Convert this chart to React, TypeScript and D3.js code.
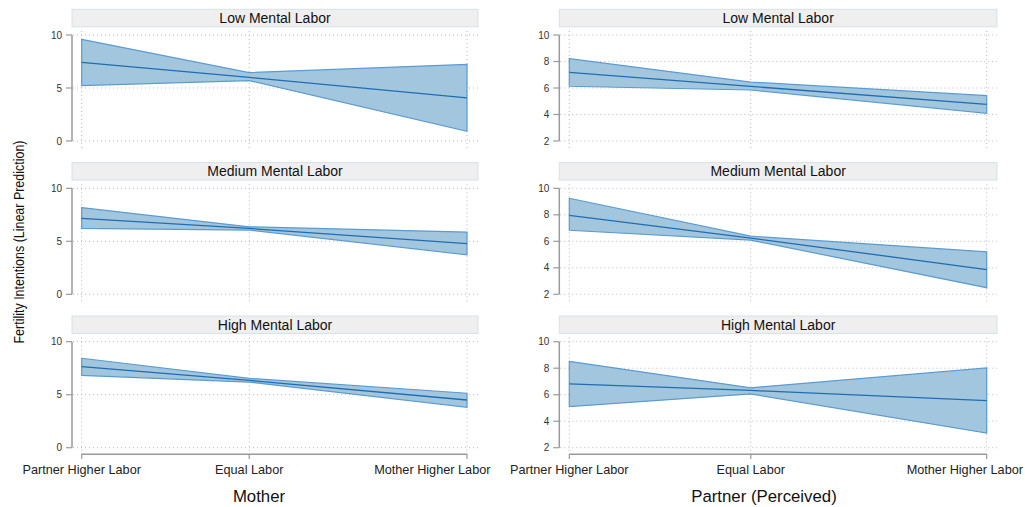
import React from 'react';
import * as d3 from 'd3';

// categories
const laborLevels = ['Partner Higher Labor', 'Equal Labor', 'Mother Higher Labor'];
const laborScore = [-1, 0, 1.3];
const mentalLabor = ['Low Mental Labor', 'Medium Mental Labor', 'High Mental Labor'];

// Mother's reported labor: predictions with CI (rows = mental labor level)
const motherMean = [[7.42, 6.0, 4.06], [7.16, 6.21, 4.79], [7.65, 6.35, 4.5]];
const motherLo = [[5.22, 5.7, 0.91], [6.21, 6.06, 3.72], [6.83, 6.19, 3.81]];
const motherHi = [[9.59, 6.45, 7.23], [8.17, 6.37, 5.87], [8.44, 6.54, 5.14]];
const motherTicks = [0, 5, 10];

// Partner (perceived)
const partnerMean = [[7.18, 6.12, 4.77], [7.95, 6.24, 3.87], [6.82, 6.32, 5.55]];
const partnerLo = [[6.13, 5.85, 4.09], [6.83, 6.09, 2.5], [5.1, 6.06, 3.1]];
const partnerHi = [[8.21, 6.45, 5.42], [9.25, 6.39, 5.2], [8.52, 6.52, 8.02]];
const partnerTicks = [2, 4, 6, 8, 10];

const FONT = '"Liberation Sans", Arial, sans-serif';
const GRID = '#b8b8b8';
const AXIS = '#9a9a9a';

const columns = [
  { title: 'Mother', mean: motherMean, lo: motherLo, hi: motherHi, ticks: motherTicks,
    axisX: 72, right: 478, x0: 81.7, x1: 467, titleX: 259, lastLabelEnd: 490.5 },
  { title: 'Partner (Perceived)', mean: partnerMean, lo: partnerLo, hi: partnerHi, ticks: partnerTicks,
    axisX: 559.3, right: 997, x0: 569.3, x1: 986.7, titleX: 764, lastLabelEnd: 1023 },
];

const rowTop = [35, 188.3, 341.7];
const rowH = 106;

function Panel({ col, row }) {
  const x = d3.scaleLinear().domain([laborScore[0], laborScore[2]]).range([col.x0, col.x1]);
  const yMin = col.ticks[0], yMax = col.ticks[col.ticks.length - 1];
  const y = d3.scaleLinear().domain([yMin, yMax]).range([rowTop[row] + rowH, rowTop[row]]);
  const pts = laborScore.map((s, i) => ({ s, m: col.mean[row][i], lo: col.lo[row][i], hi: col.hi[row][i] }));

  const area = d3.area().x(d => x(d.s)).y0(d => y(d.lo)).y1(d => y(d.hi));
  const line = d3.line().x(d => x(d.s)).y(d => y(d.m));

  const top = rowTop[row];
  const bottom = top + rowH;
  const stripTop = top - 25.7;

  return (
    <g>
      {/* strip */}
      <rect x={col.axisX} y={stripTop} width={col.right - col.axisX} height={17.5}
        fill="#efefef" stroke="#d5e2e8" strokeWidth={1} />
      <text x={(col.axisX + col.right) / 2} y={stripTop + 13.5} textAnchor="middle"
        fontFamily={FONT} fontSize={14} fill="#111">{mentalLabor[row]}</text>

      {/* grid */}
      {col.ticks.map(t => (
        <line key={'h' + t} x1={col.axisX + 1} x2={col.right} y1={y(t)} y2={y(t)}
          stroke={GRID} strokeWidth={1} strokeDasharray="1,3" />
      ))}
      {laborScore.map(s => (
        <line key={'v' + s} x1={x(s)} x2={x(s)} y1={top - 4} y2={bottom + 7}
          stroke={GRID} strokeWidth={1} strokeDasharray="1,3" />
      ))}

      {/* y axis */}
      <line x1={col.axisX} x2={col.axisX} y1={y(yMax)} y2={y(yMin)} stroke={AXIS} strokeWidth={1.5} />
      {col.ticks.map(t => (
        <g key={'t' + t}>
          <line x1={col.axisX - 6} x2={col.axisX} y1={y(t)} y2={y(t)} stroke={AXIS} strokeWidth={1.2} />
          <text x={col.axisX - 10} y={y(t)} dy="0.35em" textAnchor="end"
            fontFamily={FONT} fontSize={10} fill="#333">{t}</text>
        </g>
      ))}

      {/* CI band and prediction */}
      <path d={area(pts)} fill="#a3c6df" stroke="#5b9bd0" strokeWidth={1.2} />
      <path d={line(pts)} fill="none" stroke="#1f6db0" strokeWidth={1.3} />

      {/* x axis on bottom row */}
      {row === 2 && (
        <g>
          <line x1={col.x0} x2={col.x1} y1={454.3} y2={454.3} stroke={AXIS} strokeWidth={1.5} />
          {laborScore.map((s, i) => {
            const last = i === laborScore.length - 1;
            return (
              <g key={'x' + s}>
                <line x1={x(s)} x2={x(s)} y1={454.3} y2={459} stroke={AXIS} strokeWidth={1.2} />
                <text x={last ? col.lastLabelEnd : x(s)} y={473.5} textAnchor={last ? 'end' : 'middle'}
                  fontFamily={FONT} fontSize={12.7} fill="#222">
                  {laborLevels[i]}
                </text>
              </g>
            );
          })}
          <text x={col.titleX} y={502} textAnchor="middle" fontFamily={FONT} fontSize={16.8} fill="#111">
            {col.title}
          </text>
        </g>
      )}
    </g>
  );
}

export default function App() {
  return (
    <svg width={1025} height={507} style={{ position: 'absolute', left: 0, top: 0, background: '#fff' }}>
      <rect width={1025} height={507} fill="#fff" />
      {columns.map((col, c) =>
        mentalLabor.map((m, r) => <Panel key={c + '-' + r} col={col} row={r} />)
      )}
      <text transform="translate(24,242) rotate(-90)" textAnchor="middle" fontFamily={FONT}
        fontSize={14} fill="#111" textLength={203} lengthAdjust="spacingAndGlyphs">
        Fertility Intentions (Linear Prediction)
      </text>
    </svg>
  );
}
